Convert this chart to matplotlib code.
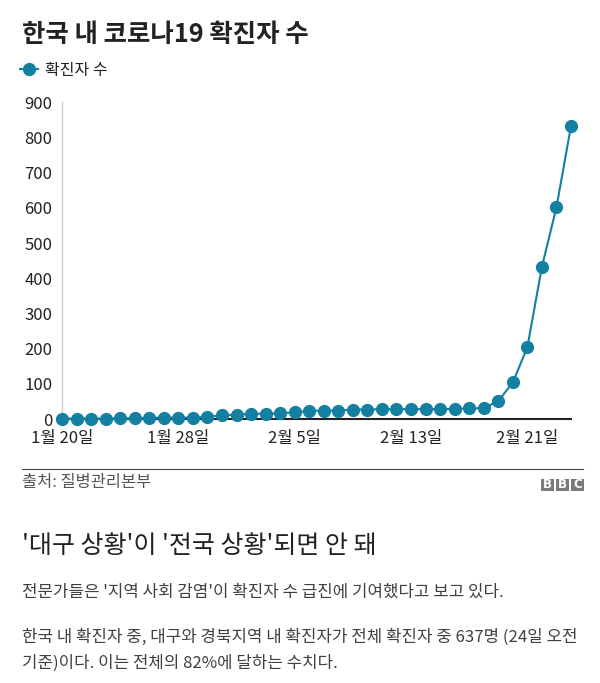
import matplotlib.pyplot as plt
from matplotlib.patches import Rectangle
from matplotlib.lines import Line2D
import numpy as np

plt.rcParams['font.family'] = ['Noto Sans CJK KR', 'DejaVu Sans']

# Daily cumulative confirmed cases, 1월 20일 .. 2월 24일
dates = ['1월 20일', '1월 21일', '1월 22일', '1월 23일', '1월 24일', '1월 25일',
         '1월 26일', '1월 27일', '1월 28일', '1월 29일', '1월 30일', '1월 31일',
         '2월 1일', '2월 2일', '2월 3일', '2월 4일', '2월 5일', '2월 6일',
         '2월 7일', '2월 8일', '2월 9일', '2월 10일', '2월 11일', '2월 12일',
         '2월 13일', '2월 14일', '2월 15일', '2월 16일', '2월 17일', '2월 18일',
         '2월 19일', '2월 20일', '2월 21일', '2월 22일', '2월 23일', '2월 24일']
cases = [1, 1, 1, 1, 2, 2, 3, 4, 4, 4, 6, 11, 12, 15, 15, 16, 19, 23,
         24, 24, 27, 27, 28, 28, 28, 28, 28, 29, 30, 31, 51, 104, 204,
         433, 602, 833]
tick_dates = ['1월 20일', '1월 28일', '2월 5일', '2월 13일', '2월 21일']
y_ticks = [0, 100, 200, 300, 400, 500, 600, 700, 800, 900]

teal = '#1380a1'
dark = '#222222'

W, H = 600, 683
fig = plt.figure(figsize=(W / 100, H / 100), dpi=100)

# axes placed in pixel terms
left, right, top, bottom = 62, 571, 102.5, 419
ax = fig.add_axes([left / W, (H - bottom) / H, (right - left) / W, (bottom - top) / H])

x = np.arange(len(cases))
line, = ax.plot(x, cases, color=teal, lw=1.5, marker='o', ms=8.5,
                mec=teal, mfc=teal, clip_on=False, zorder=3, label='확진자 수')

ax.set_xlim(0, len(cases) - 1)
ax.set_ylim(0, 900)
ax.set_yticks(y_ticks)
ax.set_xticks([dates.index(d) for d in tick_dates])
ax.set_xticklabels(tick_dates)

for s in ['top', 'right']:
    ax.spines[s].set_visible(False)
ax.spines['left'].set_color('#cccccc')
ax.spines['left'].set_linewidth(1)
ax.spines['bottom'].set_color('#222222')
ax.spines['bottom'].set_linewidth(1.5)
ax.spines['bottom'].set_zorder(2)
ax.tick_params(axis='both', length=0, labelsize=12, labelcolor=dark)
ax.tick_params(axis='y', pad=7)
ax.tick_params(axis='x', pad=8)

# title and legend
fig.text(22 / W, 1 - 35 / H, '한국 내 코로나19 확진자 수', fontsize=18.3,
         fontweight='bold', color=dark, va='center', ha='left')
fig.legend(handles=[line], loc='center left', bbox_to_anchor=(20 / W, 1 - 70 / H),
           frameon=False, fontsize=11.5, handlelength=1.1, handletextpad=0.45,
           borderpad=0, borderaxespad=0, labelcolor=dark)

# source line
fig.add_artist(Line2D([22 / W, 583 / W], [1 - 469 / H, 1 - 469 / H], color='#444444', lw=0.8))
fig.text(22 / W, 1 - 483 / H, '출처: 질병관리본부', fontsize=11.8, color='#555555',
         va='center', ha='left')

# BBC blocks
for i, ch in enumerate('BBC'):
    x0 = 541 + i * 15
    fig.add_artist(Rectangle((x0 / W, 1 - 491 / H), 12.5 / W, 12.5 / H,
                             transform=fig.transFigure, color='#7a7a7a', lw=0))
    fig.text((x0 + 6.25) / W, 1 - 484.8 / H, ch, fontsize=8.5, fontweight='bold',
             color='white', ha='center', va='center', family='DejaVu Sans')

# article text below
fig.text(22 / W, 1 - 546 / H, "'대구 상황'이 '전국 상황'되면 안 돼", fontsize=18,
         color=dark, va='center', ha='left')
fig.text(22 / W, 1 - 592 / H, "전문가들은 '지역 사회 감염'이 확진자 수 급진에 기여했다고 보고 있다.",
         fontsize=12.1, color='#404040', va='center', ha='left')
fig.text(22 / W, 1 - 637 / H, "한국 내 확진자 중, 대구와 경북지역 내 확진자가 전체 확진자 중 637명 (24일 오전",
         fontsize=12.1, color='#404040', va='center', ha='left')
fig.text(22 / W, 1 - 663 / H, "기준)이다. 이는 전체의 82%에 달하는 수치다.",
         fontsize=12.1, color='#404040', va='center', ha='left')

fig.savefig('out.png', dpi=100, facecolor='white')
